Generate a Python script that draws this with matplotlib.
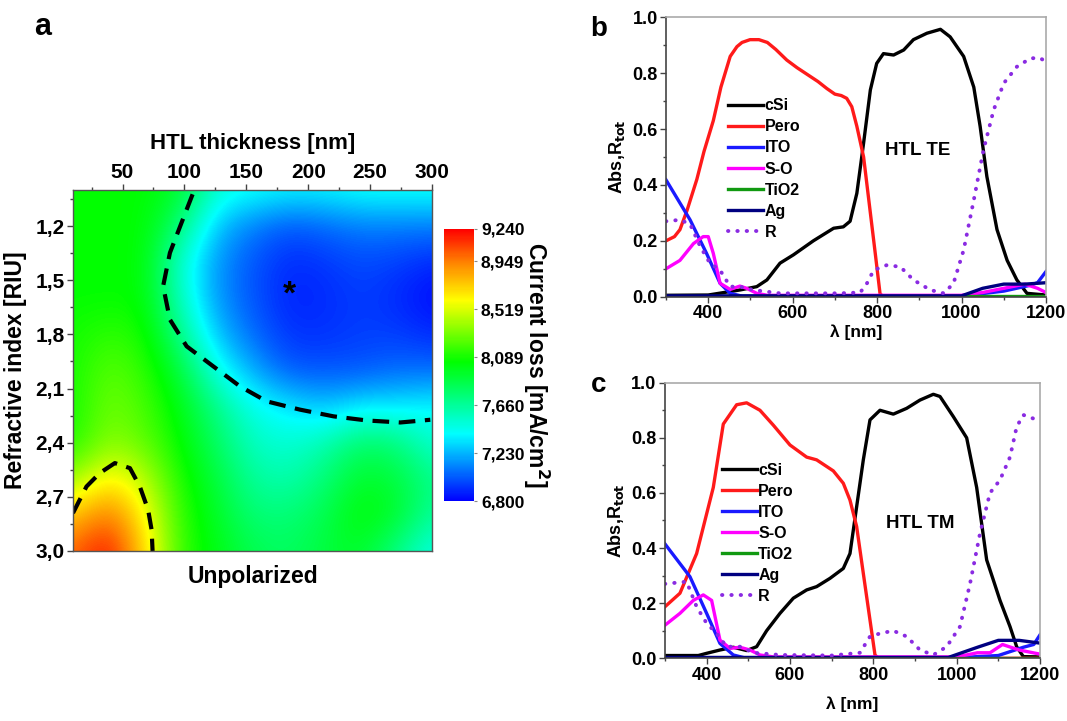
import matplotlib
matplotlib.use("Agg")
import matplotlib.pyplot as plt
import numpy as np
from matplotlib.colors import LinearSegmentedColormap
from matplotlib.ticker import FixedLocator, MultipleLocator

plt.rcParams['font.family'] = ['Liberation Sans', 'DejaVu Sans']
plt.rcParams['font.weight'] = 'bold'
plt.rcParams['axes.labelweight'] = 'bold'

# ---- panel a : current loss map ----
thickness = [10, 39, 68, 97, 126, 155, 184, 213, 242, 271, 300]
ref_index = [1.0, 1.2, 1.4, 1.6, 1.8, 2.0, 2.2, 2.4, 2.6, 2.8, 3.0]
current_loss = [
    [8050, 8050, 8050, 7950, 7500, 7450, 7400, 7400, 7450, 7450, 7450],
    [8050, 8050, 8050, 7750, 7250, 7100, 7000, 7050, 7100, 7100, 7100],
    [8050, 8050, 8050, 7500, 7150, 7000, 6900, 6930, 6980, 6950, 6900],
    [8050, 8050, 8050, 7550, 7150, 7000, 6880, 6900, 6950, 6900, 6820],
    [8080, 8150, 8100, 7700, 7250, 7050, 6920, 6920, 6950, 6950, 6900],
    [8080, 8250, 8150, 7900, 7450, 7200, 7000, 7000, 7000, 7050, 7050],
    [8080, 8300, 8200, 8000, 7700, 7450, 7350, 7250, 7350, 7350, 7400],
    [8100, 8350, 8250, 8050, 7800, 7550, 7500, 7600, 7800, 7750, 7500],
    [8350, 8650, 8450, 8100, 7900, 7650, 7600, 7750, 7950, 7900, 7700],
    [8750, 9000, 8600, 8150, 7950, 7750, 7750, 7850, 8050, 7950, 7650],
    [9000, 9240, 8700, 8150, 8000, 7850, 7800, 7900, 7950, 7700, 7450],
]
cbar_ticks = [6800, 7230, 7660, 8089, 8519, 8949, 9240]
cbar_labels = ['6,800', '7,230', '7,660', '8,089', '8,519', '8,949', '9,240']

# dashed guide lines
upper_x = [106.6, 97.7, 88.3, 82.8, 88.3, 101.8, 123.3, 144.9, 166.5, 193.4, 220.4, 247.4, 274.4, 298.6]
upper_y = [1.024, 1.181, 1.348, 1.533, 1.718, 1.866, 1.977, 2.088, 2.171, 2.217, 2.254, 2.277, 2.288, 2.273]
lower_x = [10, 20.9, 31.7, 43.8, 56, 64, 70.7, 73.5, 74.3]
lower_y = [2.79, 2.643, 2.568, 2.513, 2.541, 2.643, 2.772, 2.883, 3.0]
star_pos = (185, 1.58)

# ---- panel b : TE ----
b_wl_csi = [300, 400, 475, 515, 539, 570, 602, 649, 697, 720, 736, 752, 768, 784, 799, 815, 839, 863, 886, 918, 950, 973, 1005, 1029, 1044, 1060, 1084, 1108, 1131, 1155, 1200]
b_csi = [0.005, 0.006, 0.024, 0.036, 0.06, 0.12, 0.15, 0.20, 0.245, 0.25, 0.27, 0.37, 0.55, 0.74, 0.835, 0.87, 0.865, 0.883, 0.92, 0.943, 0.957, 0.93, 0.86, 0.75, 0.61, 0.43, 0.24, 0.13, 0.06, 0.012, 0.006]
b_wl_pero = [300, 320, 333, 350, 373, 390, 412, 430, 452, 468, 480, 499, 520, 540, 560, 586, 610, 640, 660, 681, 700, 715, 728, 740, 752, 768, 784, 796, 807, 815, 1200]
b_pero = [0.20, 0.215, 0.24, 0.31, 0.42, 0.52, 0.63, 0.75, 0.86, 0.895, 0.91, 0.92, 0.92, 0.91, 0.885, 0.847, 0.82, 0.79, 0.77, 0.745, 0.725, 0.72, 0.71, 0.68, 0.61, 0.50, 0.30, 0.15, 0.01, 0.0, 0.0]
b_wl_ito = [300, 357, 396, 428, 452, 480, 1000, 1100, 1160, 1180, 1200]
b_ito = [0.418, 0.275, 0.155, 0.048, 0.012, 0.002, 0.002, 0.02, 0.04, 0.05, 0.09]
b_wl_so = [300, 333, 365, 388, 400, 412, 428, 452, 475, 491, 515, 540, 1000, 1050, 1100, 1150, 1180, 1200]
b_so = [0.10, 0.13, 0.19, 0.215, 0.215, 0.155, 0.048, 0.026, 0.038, 0.03, 0.012, 0.005, 0.005, 0.015, 0.03, 0.045, 0.03, 0.015]
b_wl_tio2 = [300, 1200]
b_tio2 = [0.002, 0.002]
b_wl_ag = [300, 1000, 1050, 1100, 1150, 1200]
b_ag = [0.003, 0.003, 0.03, 0.045, 0.045, 0.05]
b_wl_r = [300, 333, 357, 381, 404, 428, 452, 475, 507, 570, 650, 710, 760, 776, 792, 823, 855, 886, 926, 958, 981, 1005, 1029, 1052, 1076, 1100, 1131, 1163, 1185, 1200]
b_r = [0.27, 0.275, 0.26, 0.18, 0.12, 0.095, 0.036, 0.036, 0.024, 0.012, 0.012, 0.012, 0.015, 0.048, 0.095, 0.113, 0.107, 0.06, 0.024, 0.012, 0.048, 0.167, 0.346, 0.525, 0.668, 0.764, 0.823, 0.853, 0.855, 0.841]

# ---- panel c : TM ----
c_wl_csi = [300, 380, 400, 432, 464, 496, 520, 544, 576, 608, 640, 664, 696, 728, 744, 760, 776, 792, 816, 848, 880, 912, 944, 960, 992, 1024, 1048, 1072, 1088, 1104, 1128, 1144, 1160, 1200]
c_csi = [0.01, 0.01, 0.018, 0.03, 0.04, 0.028, 0.042, 0.10, 0.163, 0.218, 0.248, 0.26, 0.29, 0.326, 0.38, 0.55, 0.72, 0.865, 0.90, 0.886, 0.907, 0.937, 0.958, 0.95, 0.877, 0.80, 0.62, 0.357, 0.284, 0.21, 0.115, 0.042, 0.006, 0.005]
c_wl_pero = [300, 336, 376, 416, 440, 472, 496, 528, 560, 600, 640, 664, 704, 728, 744, 760, 776, 792, 804, 812, 1200]
c_pero = [0.187, 0.236, 0.38, 0.62, 0.85, 0.92, 0.927, 0.90, 0.846, 0.774, 0.73, 0.72, 0.68, 0.635, 0.574, 0.478, 0.308, 0.139, 0.012, 0.0, 0.0]
c_wl_ito = [300, 360, 400, 432, 464, 490, 1000, 1100, 1160, 1185, 1200]
c_ito = [0.415, 0.296, 0.163, 0.054, 0.012, 0.002, 0.002, 0.01, 0.04, 0.05, 0.085]
c_wl_so = [300, 336, 368, 392, 412, 432, 456, 480, 504, 528, 560, 1000, 1050, 1080, 1110, 1150, 1200]
c_so = [0.12, 0.163, 0.21, 0.23, 0.21, 0.066, 0.036, 0.04, 0.03, 0.012, 0.005, 0.005, 0.02, 0.02, 0.05, 0.03, 0.015]
c_wl_tio2 = [300, 1200]
c_tio2 = [0.002, 0.002]
c_wl_ag = [300, 980, 1050, 1100, 1150, 1200]
c_ag = [0.003, 0.003, 0.04, 0.065, 0.065, 0.055]
c_wl_r = [300, 352, 376, 400, 424, 448, 480, 512, 576, 700, 768, 792, 816, 848, 880, 912, 944, 976, 1008, 1032, 1056, 1080, 1104, 1128, 1144, 1160, 1184, 1200]
c_r = [0.27, 0.278, 0.187, 0.127, 0.09, 0.042, 0.042, 0.02, 0.012, 0.01, 0.02, 0.079, 0.09, 0.10, 0.079, 0.03, 0.012, 0.042, 0.115, 0.27, 0.453, 0.60, 0.647, 0.73, 0.84, 0.883, 0.87, 0.853]

layer_names = ['cSi', 'Pero', 'ITO', 'S-O', 'TiO2', 'Ag', 'R']
layer_colors = ['black', '#ff1a1a', '#1a1aff', '#ff00ff', '#119911', '#000080', '#8a2be2']

fig = plt.figure(figsize=(10.67, 7.21), dpi=100)

# colormap blue-cyan-green-yellow-red
cmap = LinearSegmentedColormap.from_list('loss', [
    (0.0, '#0000ff'), (0.246, '#00ffff'), (0.512, '#00ff00'),
    (0.738, '#ffff00'), (0.881, '#ff8000'), (1.0, '#ff0000')])

ax_a = fig.add_axes([0.0684, 0.2358, 0.3365, 0.5007])
dx = (thickness[1] - thickness[0]) / 2
dy = (ref_index[1] - ref_index[0]) / 2
im = ax_a.imshow(np.array(current_loss), cmap=cmap, vmin=6800, vmax=9240,
                 extent=[thickness[0] - dx, thickness[-1] + dx, ref_index[-1] + dy, ref_index[0] - dy],
                 origin='upper', aspect='auto', interpolation='bicubic')
ax_a.set_xlim(10, 300)
ax_a.set_ylim(3.0, 1.0)
ax_a.plot(upper_x, upper_y, color='black', lw=3, dashes=(4, 2.3))
ax_a.plot(lower_x, lower_y, color='black', lw=3, dashes=(4, 2.3))
ax_a.text(star_pos[0], star_pos[1], '*', fontsize=24, ha='center', va='center', color='black')

ax_a.xaxis.tick_top()
ax_a.xaxis.set_label_position('top')
ax_a.set_xticks([50, 100, 150, 200, 250, 300])
ax_a.xaxis.set_minor_locator(FixedLocator([25, 75, 125, 175, 225, 275]))
ax_a.set_yticks([1.2, 1.5, 1.8, 2.1, 2.4, 2.7, 3.0])
ax_a.set_yticklabels(['1,2', '1,5', '1,8', '2,1', '2,4', '2,7', '3,0'])
ax_a.yaxis.set_minor_locator(FixedLocator([1.05, 1.35, 1.65, 1.95, 2.25, 2.55, 2.85]))
ax_a.tick_params(which='major', direction='out', length=4, width=1, labelsize=15, pad=2, color='#444444')
ax_a.tick_params(which='minor', direction='out', length=2.5, width=1, color='#444444')
ax_a.set_xlabel('HTL thickness [nm]', fontsize=16, labelpad=10)
ax_a.set_ylabel('Refractive index [RIU]', fontsize=16.5, labelpad=6)
for sp in ax_a.spines.values():
    sp.set_color('#555555')
    sp.set_linewidth(1)
ax_a.text(0.5, -0.07, 'Unpolarized', transform=ax_a.transAxes, ha='center', va='center', fontsize=16.5)
fig.text(0.04, 0.962, 'a', fontsize=22, ha='center', va='center')

cax = fig.add_axes([0.4161, 0.3051, 0.0281, 0.3773])
cb = fig.colorbar(im, cax=cax, ticks=cbar_ticks)
cb.ax.set_yticklabels(cbar_labels)
cb.outline.set_visible(False)
cb.ax.tick_params(length=2, width=0.8, color='#888888', labelsize=12.5, pad=3)
cb.set_label('Current loss [mA/cm$^\\mathbf{2}$]', rotation=270, fontsize=16.5, labelpad=19)


def spectra_panel(rect, data, tag, letter, letter_y, leg_anchor, xlabel_pad):
    ax = fig.add_axes(rect)
    for (wl, val), name, col in zip(data, layer_names, layer_colors):
        if name == 'R':
            ax.plot(wl, val, color=col, lw=2.8, linestyle=(0, (0.1, 2.3)),
                    dash_capstyle='round', label=name)
        else:
            ax.plot(wl, val, color=col, lw=2.4, label=name)
    ax.set_xlim(300, 1200)
    ax.set_ylim(0, 1.0)
    ax.set_xticks([400, 600, 800, 1000, 1200])
    ax.xaxis.set_minor_locator(MultipleLocator(100))
    ax.set_yticks([0.0, 0.2, 0.4, 0.6, 0.8, 1.0])
    ax.set_yticklabels(['0.0', '0.2', '0.4', '0.6', '0.8', '1.0'])
    ax.yaxis.set_minor_locator(MultipleLocator(0.1))
    ax.tick_params(which='major', direction='out', length=4, width=1, labelsize=13, pad=2, color='#444444')
    ax.tick_params(which='minor', direction='out', length=2.5, width=1, color='#444444')
    ax.set_xlabel('λ [nm]', fontsize=12.5, labelpad=xlabel_pad)
    ax.set_ylabel('Abs,R$_{\\mathbf{tot}}$', fontsize=13, labelpad=4)
    ax.spines['left'].set_color('#444444')
    ax.spines['bottom'].set_color('#444444')
    ax.spines['top'].set_color('#aaaaaa')
    ax.spines['right'].set_color('#aaaaaa')
    for sp in ax.spines.values():
        sp.set_linewidth(1.2)
    ax.legend(loc='upper left', bbox_to_anchor=leg_anchor, frameon=False, fontsize=11.5,
              handlelength=2.2, handletextpad=0.1, labelspacing=0.38, borderpad=0, borderaxespad=0)
    ax.text(tag[1], tag[2], tag[0], fontsize=13.5, ha='center', va='center')
    fig.text(0.561, letter_y, letter, fontsize=20, ha='center', va='center')
    return ax


spectra_panel([0.6242, 0.5885, 0.3561, 0.3875],
              [(b_wl_csi, b_csi), (b_wl_pero, b_pero), (b_wl_ito, b_ito), (b_wl_so, b_so),
               (b_wl_tio2, b_tio2), (b_wl_ag, b_ag), (b_wl_r, b_r)],
              ('HTL TE', 897, 0.525), 'b', 0.96, (0.163, 0.71), 2)
spectra_panel([0.6232, 0.0870, 0.3515, 0.3822],
              [(c_wl_csi, c_csi), (c_wl_pero, c_pero), (c_wl_ito, c_ito), (c_wl_so, c_so),
               (c_wl_tio2, c_tio2), (c_wl_ag, c_ag), (c_wl_r, c_r)],
              ('HTL TM', 912, 0.49), 'c', 0.466, (0.151, 0.71), 9)

fig.savefig('out.png', dpi=100)
